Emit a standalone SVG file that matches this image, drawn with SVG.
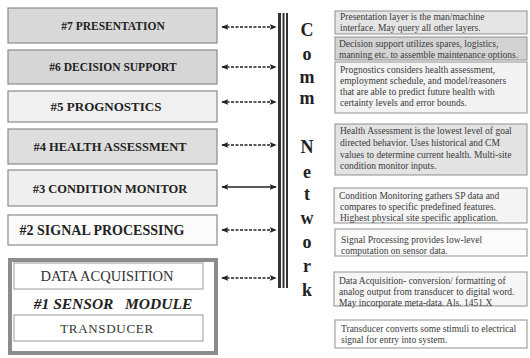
<svg xmlns="http://www.w3.org/2000/svg" width="530" height="358" viewBox="0 0 530 358">
<style>
.lb{stroke:#8a8a8a;stroke-width:1.2}
.lt{font-family:"Liberation Serif",serif;font-weight:bold;font-size:11.5px;fill:#222;text-anchor:middle}
.rb{stroke:#8f8f8f;stroke-width:1}
.rt{font-family:"Liberation Serif",serif;font-size:9.5px;fill:#3a3a3a}
.cn{font-family:"Liberation Serif",serif;font-weight:bold;font-size:18px;fill:#222;text-anchor:middle}
.ar{stroke:#222;stroke-width:1.6;fill:none;marker-start:url(#ah);marker-end:url(#ah)}
.dash{stroke-dasharray:3 1.5}
</style>
<defs>
<marker id="ah" viewBox="0 0 10 10" refX="9" refY="5" markerWidth="7" markerHeight="7" orient="auto-start-reverse" markerUnits="userSpaceOnUse">
<path d="M0,1 L10,5 L0,9 L2,5 z" fill="#222"/>
</marker>
</defs>
<rect width="530" height="358" fill="#ffffff"/>

<g id="n7"><rect class="lb" x="8" y="8" width="209" height="35" fill="#d9d9d9"/><text class="lt" x="113" y="30">#7 PRESENTATION</text></g>
<g id="n6"><rect class="lb" x="8" y="50" width="209" height="34" fill="#d6d6d6"/><text class="lt" x="113" y="71">#6 DECISION SUPPORT</text></g>
<g id="n5"><rect class="lb" x="8" y="91" width="209" height="31" fill="#f0f0f0"/><text class="lt" x="106" y="111" style="font-size:13px">#5 PROGNOSTICS</text></g>
<g id="n4"><rect class="lb" x="8" y="129" width="209" height="35" fill="#dedede"/><text class="lt" x="110" y="151" style="font-size:12.5px">#4  HEALTH ASSESSMENT</text></g>
<g id="n3"><rect class="lb" x="8" y="170" width="209" height="36" fill="#efefef"/><text class="lt" x="110" y="193" style="font-size:12.5px">#3  CONDITION MONITOR</text></g>
<g id="n2"><rect class="lb" x="8" y="215" width="209" height="30" fill="#fbfbfb"/><text class="lt" x="102" y="235" style="font-size:14px">#2 SIGNAL PROCESSING</text></g>
<g id="n1">
<rect x="10" y="260" width="206" height="93" fill="#ffffff" stroke="#8c8c8c" stroke-width="4"/>
<rect x="14" y="263" width="189" height="26" fill="#ffffff" stroke="#9a9a9a" stroke-width="1"/>
<text x="107" y="281" style="font-family:'Liberation Serif',serif;font-size:14.5px;fill:#333;text-anchor:middle">DATA ACQUISITION</text>
<text x="113" y="309" style="font-family:'Liberation Serif',serif;font-size:15.5px;font-weight:bold;font-style:italic;fill:#222;text-anchor:middle" xml:space="preserve">#1 SENSOR   MODULE</text>
<rect x="14" y="315" width="189" height="26" fill="#ffffff" stroke="#9a9a9a" stroke-width="1"/>
<text x="107" y="333" style="font-family:'Liberation Serif',serif;font-size:13px;fill:#333;text-anchor:middle;letter-spacing:0.7px">TRANSDUCER</text>
</g>

<g id="bus">
<rect x="278" y="13" width="3" height="275" fill="#333"/>
<rect x="282.5" y="13" width="2" height="275" fill="#333"/>
<rect x="286" y="13" width="2" height="275" fill="#333"/>
<text class="cn" x="307" y="36">C</text>
<text class="cn" x="307" y="60">o</text>
<text class="cn" x="307" y="83">m</text>
<text class="cn" x="307" y="104">m</text>
<text class="cn" x="307" y="153">N</text>
<text class="cn" x="307" y="178">e</text>
<text class="cn" x="307" y="200">t</text>
<text class="cn" x="307" y="224">w</text>
<text class="cn" x="307" y="248">o</text>
<text class="cn" x="307" y="272">r</text>
<text class="cn" x="307" y="296">k</text>
</g>

<g id="connectors">
<line class="ar dash" x1="222" y1="27" x2="276" y2="27"/>
<line class="ar dash" x1="222" y1="67" x2="276" y2="67"/>
<line class="ar dash" x1="222" y1="102" x2="276" y2="102"/>
<line class="ar dash" x1="222" y1="145" x2="276" y2="145"/>
<line class="ar" x1="222" y1="187" x2="276" y2="187"/>
<line class="ar dash" x1="222" y1="230" x2="276" y2="230"/>
<line class="ar dash" x1="222" y1="278" x2="276" y2="278"/>
</g>

<g id="d7"><rect class="rb" x="335" y="11" width="192" height="23" fill="#e5e5e5"/>
<text class="rt" x="340" y="20">Presentation layer is the man/machine</text>
<text class="rt" x="340" y="31">interface. May query all other layers.</text></g>
<g id="d6"><rect class="rb" x="335" y="37" width="192" height="23" fill="#d3d3d3"/>
<text class="rt" x="339" y="47">Decision support utilizes spares, logistics,</text>
<text class="rt" x="339" y="58">manning etc. to assemble maintenance options.</text></g>
<g id="d5"><rect class="rb" x="335" y="62" width="192" height="51" fill="#f3f3f3"/>
<text class="rt" x="340" y="73">Prognostics considers health assessment,</text>
<text class="rt" x="340" y="84">employment schedule, and model/reasoners</text>
<text class="rt" x="340" y="95">that are able to predict future health with</text>
<text class="rt" x="340" y="106">certainty levels and error bounds.</text></g>
<g id="d4"><rect class="rb" x="335" y="124" width="192" height="51" fill="#e3e3e3"/>
<text class="rt" x="340" y="134">Health Assessment is the lowest level of goal</text>
<text class="rt" x="340" y="146">directed behavior. Uses historical and CM</text>
<text class="rt" x="340" y="158">values to determine current health.  Multi-site</text>
<text class="rt" x="340" y="169">condition monitor inputs.</text></g>
<g id="d3"><rect class="rb" x="334" y="188" width="193" height="35" fill="#f4f4f4"/>
<text class="rt" x="339" y="199">Condition Monitoring gathers SP data and</text>
<text class="rt" x="340" y="210">compares to specific predefined features.</text>
<text class="rt" x="340" y="221">Highest physical site specific application.</text></g>
<g id="d2"><rect class="rb" x="335" y="229" width="192" height="27" fill="#fbfbfb"/>
<text class="rt" x="341" y="243">Signal Processing provides low-level</text>
<text class="rt" x="341" y="254">computation on sensor data.</text></g>
<g id="d1"><rect class="rb" x="334" y="272" width="193" height="34" fill="#f6f6f6"/>
<text class="rt" x="339" y="284">Data Acquisition- conversion/ formatting of</text>
<text class="rt" x="339" y="295">analog output from transducer to digital word.</text>
<text class="rt" x="339" y="306">May incorporate meta-data. Als. 1451.X</text></g>
<g id="d0"><rect class="rb" x="335" y="320" width="192" height="28" fill="#ffffff"/>
<text class="rt" x="341" y="332">Transducer converts some stimuli to electrical</text>
<text class="rt" x="341" y="343">signal for entry into system.</text></g>
</svg>
